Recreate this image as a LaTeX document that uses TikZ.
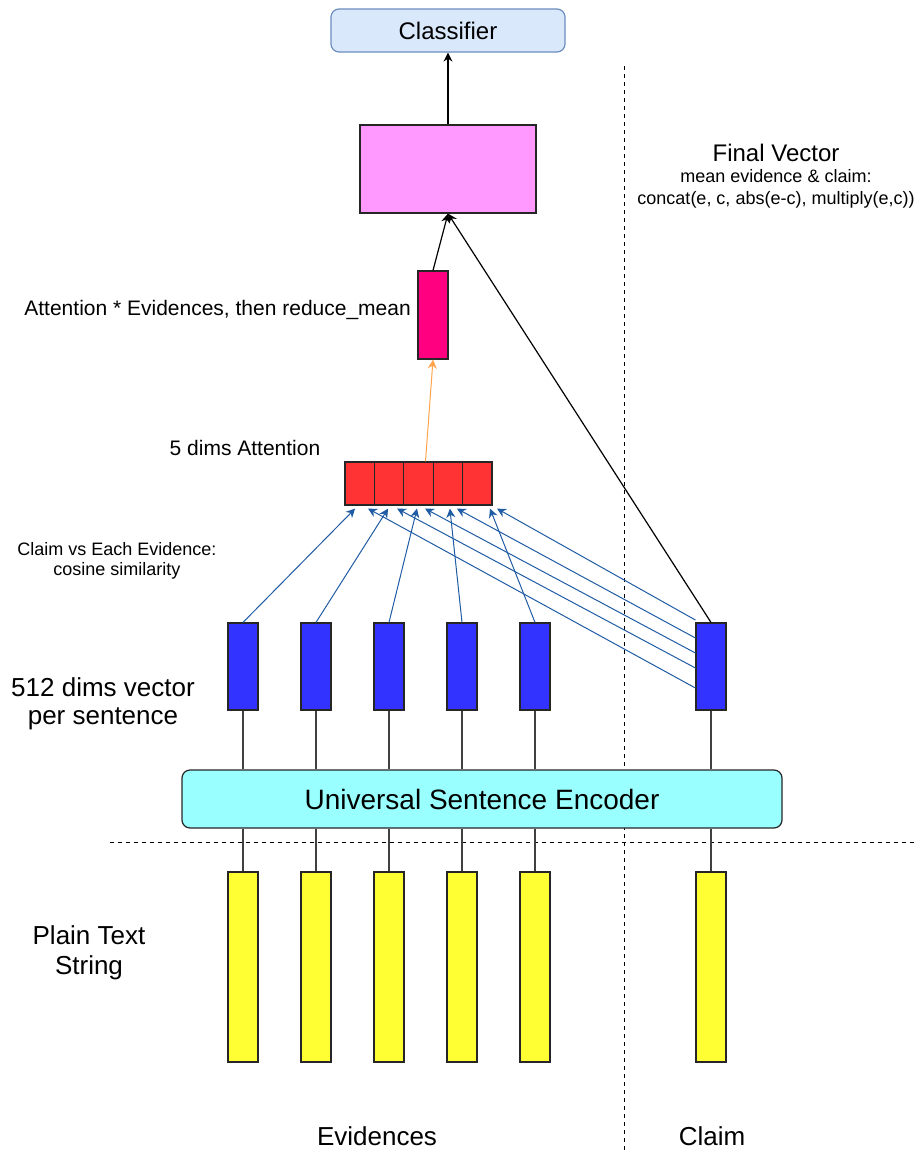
\documentclass[tikz,border=0pt]{standalone}
\usepackage{fontspec}
\setmainfont{Liberation Sans}
\usetikzlibrary{positioning,arrows.meta}

\definecolor{clsfill}{RGB}{218,232,252}
\definecolor{clsdraw}{RGB}{108,142,191}
\definecolor{finalpink}{RGB}{255,153,255}
\definecolor{meanpink}{RGB}{255,0,128}
\definecolor{attred}{RGB}{255,51,51}
\definecolor{vecblue}{RGB}{51,51,255}
\definecolor{encfill}{RGB}{153,255,255}
\definecolor{strfill}{RGB}{255,255,51}
\definecolor{simblue}{RGB}{32,92,164}
\definecolor{attorange}{RGB}{255,163,77}

\begin{document}
\begin{tikzpicture}[x=0.5pt, y=-0.5pt, line width=0.6pt,
  box/.style={draw=black!85, rectangle, inner sep=0pt},
  vec/.style={box, minimum width=15pt, minimum height=43.5pt, fill=vecblue},
  strbox/.style={box, minimum width=15pt, minimum height=95pt, fill=strfill},
  cell/.style={box, minimum width=14.7pt, minimum height=21.5pt, fill=attred},
  wire/.style={draw=black!75},
  tip/.style={-{Stealth[length=4.5pt,width=4.5pt]}},
  simarrow/.style={tip, draw=simblue, line width=0.5pt},
  sep/.style={draw=black, line width=0.5pt, dash pattern=on 2pt off 2pt},
  small/.style={font=\fontsize{9}{10}\selectfont, inner sep=0pt, align=center},
  mid/.style={font=\fontsize{10.5}{12}\selectfont, inner sep=0pt, align=center},
  big/.style={font=\fontsize{13}{14}\selectfont, inner sep=0pt, align=center}]

  \useasboundingbox (0,0) rectangle (915,1151);

  % separators
  \draw[sep] (110,842) -- (915,842);
  \draw[sep] (624,66) -- (624,1151);

  % top part
  \node (cls) [draw=clsdraw, fill=clsfill, rounded corners=4pt, minimum width=117pt, minimum height=21.5pt, font=\fontsize{12}{14}\selectfont] at (448,30.5) {Classifier};
  \node (final) [box, fill=finalpink, minimum width=88pt, minimum height=44pt] at (448,169) {};
  \node (mean) [box, fill=meanpink, minimum width=15pt, minimum height=44pt] at (433,315) {};
  \foreach \i in {1,...,5}
    \node (att\i) [cell] at ({345+29.4*(\i-0.5)},483.5) {};

  % vectors, encoder, strings
  \node (enc) [box, fill=encfill, rounded corners=4pt, minimum width=300pt, minimum height=29pt, font=\fontsize{14}{16}\selectfont] at (482,799) {Universal Sentence Encoder};
  \foreach \i/\x in {1/243,2/316,3/389,4/462,5/535,6/711} {
    \node (vec\i) [vec] at (\x,666.5) {};
    \node (str\i) [strbox] at (\x,967) {};
    \draw[wire] (vec\i.south) -- (vec\i.south |- enc.north);
    \draw[wire] (str\i.north |- enc.south) -- (str\i.north);
  }

  % arrows
  \draw[tip] (final) -- (cls);
  \draw[tip] (mean.north) -- (final.south);
  \draw[tip] (vec6.north) -- (final.south);
  \draw[tip, draw=attorange, line width=0.5pt] ([xshift=3.5pt]att3.north) -- (mean.south);
  \foreach \i/\dx in {1/-2.3pt,2/-0.5pt,3/-0.75pt,4/1pt,5/6.35pt}
    \draw[simarrow] (vec\i.north) -- ([xshift=\dx,yshift=-1.5pt]att\i.south);
  \foreach \i/\dy/\dx in {1/-10.75pt/4.15pt,2/-0.75pt/4pt,3/6.75pt/3.25pt,4/14.25pt/4.5pt,5/23.25pt/9.85pt}
    \draw[simarrow] ([yshift=\dy]vec6.west) -- ([xshift=\dx,yshift=-1.5pt]att\i.south);

  % labels
  \node (fvtitle) [font=\fontsize{12}{14}\selectfont, inner sep=0pt] at (776,153) {Final Vector};
  \node (fvnote) [small, font=\fontsize{9}{11}\selectfont] at (776,189) {mean evidence \& claim:\\concat(e, c, abs(e-c), multiply(e,c))};
  \node (meanlbl) [mid, left=3pt of mean, yshift=2.5pt] {Attention * Evidences, then reduce\_mean};
  \node (attlbl) [mid] at (245,448) {5 dims Attention};
  \node (simlbl) [small] at (117,561) {Claim vs Each Evidence:\\cosine similarity};
  \node (veclbl) [big] at (103,704) {512 dims vector\\per sentence};
  \node (strlbl) [big, font=\fontsize{13}{15}\selectfont] at (89,953) {Plain Text\\String};
  \node (evlbl) [big] at (377,1136) {Evidences};
  \node (clmlbl) [big] at (712,1136) {Claim};
\end{tikzpicture}
\end{document}
